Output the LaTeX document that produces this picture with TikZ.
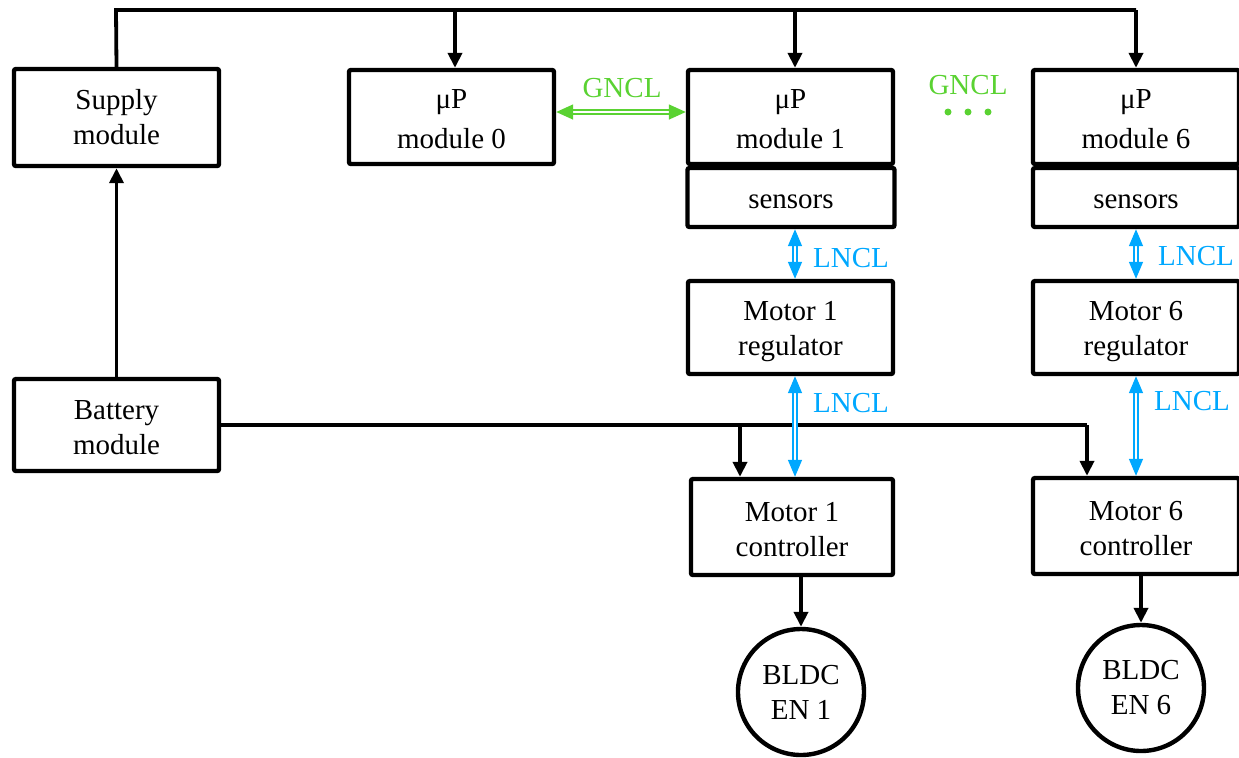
\documentclass[tikz,border=0pt]{standalone}
\usepackage{fontspec}
\setmainfont{Liberation Serif}
\usetikzlibrary{arrows.meta}
\definecolor{gncl}{RGB}{90,210,50}
\definecolor{lncl}{RGB}{0,168,255}
\newcommand{\tstrut}[1]{\rule{0pt}{#1}}
\tikzset{
  box/.style={draw=black, line width=2.2pt, rounded corners=1pt, fill=white, align=center,
    minimum width=102.5pt, minimum height=47pt, inner sep=0pt,
    font=\fontsize{14.5}{17.5}\selectfont},
  motor/.style={draw=black, line width=2.2pt, circle, minimum size=63pt, inner sep=0pt, align=center,
    font=\fontsize{14.5}{17.5}\selectfont},
  conn/.style={line width=1.9pt, -{Triangle[width=7pt,length=7.5pt]}},
  wire/.style={line width=1.9pt},
  gdbl/.style={draw=gncl, double=white, double distance=1.1pt, line width=0.75pt,
    {Triangle[width=7.5pt,length=8.5pt]}-{Triangle[width=7.5pt,length=8.5pt]}},
  ldbl/.style={draw=lncl, double=white, double distance=1.1pt, line width=0.75pt,
    {Triangle[width=7pt,length=8.5pt]}-{Triangle[width=7pt,length=8.5pt]}},
  glab/.style={text=gncl, font=\fontsize{14.5}{17.5}\selectfont, inner sep=0pt},
  llab/.style={text=lncl, font=\fontsize{14.5}{17.5}\selectfont, inner sep=0pt},
  gdot/.style={fill=gncl, draw=none}
}
\begin{document}
\begin{tikzpicture}[x=0.5pt,y=-0.5pt]
\useasboundingbox (0,0) rectangle (1239,757);
% boxes
\node[box, minimum height=48.5pt] (sup) at (116.5,117.5) {Supply\\module};
\node[box] (m0) at (451.5,117) {\tstrut{11.5pt}μP\\[2.5pt]module 0};
\node[box] (m1) at (790.5,117) {\tstrut{11.5pt}μP\\[2.5pt]module 1};
\node[box, minimum width=103.5pt, minimum height=29.5pt] (s1) at (791,197.5) {\raisebox{0pt}[10.6pt][0pt]{sensors}};
\node[box, minimum width=103pt] (m6) at (1136,117) {\tstrut{11.5pt}μP\\[2.5pt]module 6};
\node[box, minimum width=103pt, minimum height=29.5pt] (s6) at (1136,197.5) {\raisebox{0pt}[10.6pt][0pt]{sensors}};
\node[box, minimum height=46.5pt] (r1) at (790.5,327.5) {\tstrut{13.5pt}Motor 1\\regulator};
\node[box, minimum width=103pt, minimum height=46.5pt] (r6) at (1136,327.5) {\tstrut{13.5pt}Motor 6\\regulator};
\node[box, minimum height=46pt] (bat) at (116.5,425) {\tstrut{12.5pt}Battery\\module};
\node[box, minimum width=101pt, minimum height=48pt] (c1) at (792,527) {\tstrut{12.5pt}Motor 1\\controller};
\node[box, minimum width=103pt, minimum height=48pt] (c6) at (1136,526) {\tstrut{12.5pt}Motor 6\\controller};
\node[motor] (e1) at (801,692) {BLDC\\EN 1};
\node[motor] (e6) at (1141,688) {BLDC\\EN 6};
% supply bus
\coordinate (t0) at (116,10);
\coordinate (t1) at (455,10);
\coordinate (t2) at (795,10);
\coordinate (t3) at (1136,10);
\draw[wire] (sup.north) -- (t0) -- (t3);
\draw[conn] (t3) -- (m6.north);
\draw[conn] (t1) -- (t1 |- m0.north);
\draw[conn] (t2) -- (t2 |- m1.north);
% battery
\draw[conn] (bat.north) -- (sup.south);
\coordinate (b1) at (740,425);
\coordinate (b2) at (1087,425);
\draw[wire] (bat.east) -- (b2);
\draw[conn] (b2) -- (b2 |- c6.north);
\draw[conn] (b1) -- (b1 |- c1.north);
% motors
\draw[conn] (e1.north |- c1.south) -- (e1.north);
\draw[conn] (e6.north |- c6.south) -- (e6.north);
% GNCL
\coordinate (g0) at (0,112);
\draw[gdbl] (m0.east |- g0) -- (m1.west |- g0);
\node[glab] (gl1) at (622,88) {GNCL};
\node[glab] (gl2) at (968,85) {GNCL};
\fill[gdot] (948,112) circle (3.5);
\fill[gdot] (968,112) circle (3.5);
\fill[gdot] (988,112) circle (3.5);
% LNCL
\coordinate (l1) at (795,0);
\coordinate (l6) at (1136,0);
\draw[ldbl] (l1 |- s1.south) -- (l1 |- r1.north);
\draw[ldbl] (l1 |- r1.south) -- (l1 |- c1.north);
\draw[ldbl] (l6 |- s6.south) -- (l6 |- r6.north);
\draw[ldbl] (l6 |- r6.south) -- (l6 |- c6.north);
\node[llab] (ll1) at (851,258) {LNCL};
\node[llab] (ll2) at (851,403) {LNCL};
\node[llab] (ll3) at (1196,256) {LNCL};
\node[llab] (ll4) at (1192,401) {LNCL};
\end{tikzpicture}
\end{document}
